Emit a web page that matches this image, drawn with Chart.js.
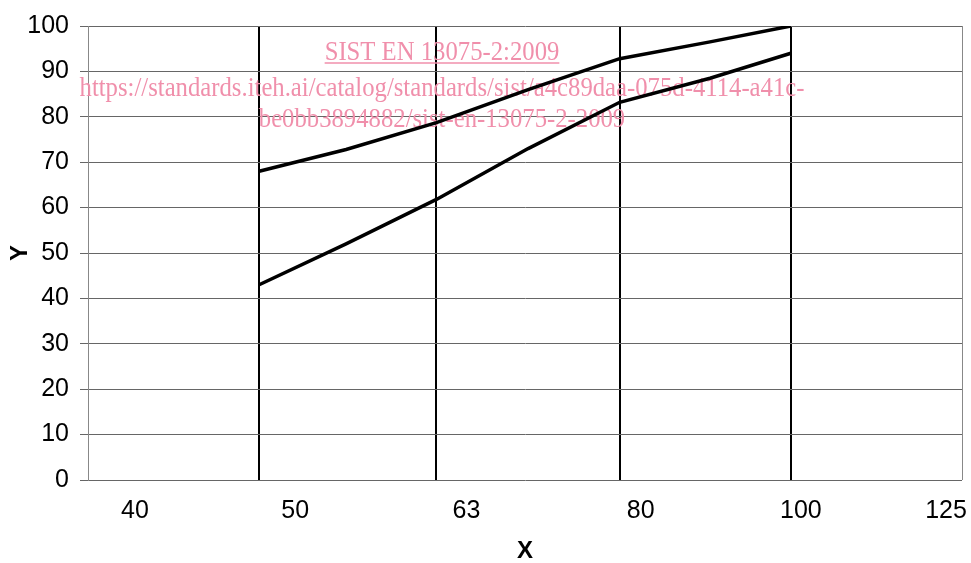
<!DOCTYPE html>
<html>
<head>
<meta charset="utf-8">
<script src="https://cdn.jsdelivr.net/npm/chart.js@4.4.1/dist/chart.umd.min.js"></script>
<style>
  body { margin: 0; background: #fff; }
  canvas { display: block; }
</style>
</head>
<body>
<canvas id="myChart" width="971" height="563"></canvas>
<script>
// data
const xValues = [50, 56, 63, 71, 80, 90, 100];
const upperCurve = [68, 72.8, 78.7, 86, 92.8, 96.5, 100];
const lowerCurve = [43, 52, 61.8, 73, 83.2, 88.5, 94];
const xTicks = [40, 50, 63, 80, 100, 125];
const yTicks = [0, 10, 20, 30, 40, 50, 60, 70, 80, 90, 100];

// labels in the picture sit a bit off their grid lines
const xLabelShift = [47, 36, 30, 21, 10, -16];

const watermark = [
  "SIST EN 13075-2:2009",
  "https://standards.iteh.ai/catalog/standards/sist/a4c89daa-075d-4114-a41c-",
  "be0bb3894882/sist-en-13075-2-2009",
];

function pairs(ys) {
  return xValues.map((x, i) => ({ x: x, y: ys[i] }));
}

const font = "'Liberation Sans', Arial, sans-serif";

// x tick labels, drawn at the scale position plus the shift
const xLabels = {
  id: "xLabels",
  afterDraw(chart) {
    const ctx = chart.ctx;
    const xs = chart.scales.x;
    ctx.save();
    ctx.font = "25px " + font;
    ctx.fillStyle = "#000";
    ctx.textAlign = "center";
    ctx.textBaseline = "middle";
    xTicks.forEach((v, i) => {
      ctx.fillText(String(v), xs.getPixelForValue(v) + xLabelShift[i], 511);
    });
    ctx.restore();
  },
};

// pink link text laid over the plot
const stamp = {
  id: "stamp",
  beforeDatasetsDraw(chart) {
    const ctx = chart.ctx;
    const cx = 442;
    const rows = [60, 96, 127];
    ctx.save();
    ctx.font = "27px 'Liberation Serif', 'Times New Roman', serif";
    ctx.fillStyle = "#f08fab";
    ctx.strokeStyle = "#f08fab";
    ctx.textAlign = "center";
    ctx.textBaseline = "alphabetic";
    watermark.forEach((t, i) => {
      ctx.save();
      ctx.translate(cx, rows[i]);
      ctx.scale(0.915, 1);
      ctx.fillText(t, 0, 0);
      if (i === 0) {
        const w = ctx.measureText(t).width;
        ctx.lineWidth = 1.5;
        ctx.beginPath();
        ctx.moveTo(-w / 2, 3);
        ctx.lineTo(w / 2, 3);
        ctx.stroke();
      }
      ctx.restore();
    });
    ctx.restore();
  },
};

const config = {
  type: "line",
  data: {
    datasets: [
      {
        label: "upper",
        data: pairs(upperCurve),
        borderColor: "#000",
        borderWidth: 3.5,
        pointRadius: 0,
        tension: 0,
      },
      {
        label: "lower",
        data: pairs(lowerCurve),
        borderColor: "#000",
        borderWidth: 3.5,
        pointRadius: 0,
        tension: 0,
      },
    ],
  },
  plugins: [xLabels, stamp],
  options: {
    responsive: false,
    animation: false,
    layout: { padding: { top: 26, right: 9, left: 0, bottom: 0 } },
    plugins: { legend: { display: false }, tooltip: { enabled: false } },
    scales: {
      x: {
        type: "logarithmic",
        min: 40,
        max: 125,
        afterBuildTicks: (s) => {
          s.ticks = xTicks.map((v) => ({ value: v }));
        },
        afterFit: (s) => {
          s.height = 83;
        },
        ticks: { display: false },
        border: { display: false },
        grid: {
          drawTicks: false,
          color: (c) => (c.tick && c.tick.value > 40 && c.tick.value < 125 ? "#000" : "#888"),
          lineWidth: (c) => (c.tick && c.tick.value > 40 && c.tick.value < 125 ? 2 : 1),
        },
        title: {
          display: true,
          text: "X",
          color: "#000",
          font: { family: font, size: 24, weight: "bold", lineHeight: 1 },
          padding: { top: 0, bottom: 0 },
        },
      },
      y: {
        min: 0,
        max: 100,
        afterBuildTicks: (s) => {
          s.ticks = yTicks.map((v) => ({ value: v }));
        },
        afterFit: (s) => {
          s.width = 88;
        },
        border: { color: "#888", width: 1 },
        grid: { color: "#666", lineWidth: 1, tickLength: 8 },
        ticks: {
          color: "#000",
          padding: 11,
          font: { family: font, size: 25 },
        },
        title: {
          display: true,
          text: "Y",
          color: "#000",
          font: { family: font, size: 24, weight: "bold" },
          padding: { top: 6, bottom: 0 },
        },
      },
    },
  },
};

const myChart = new Chart(document.getElementById("myChart"), config);
</script>
</body>
</html>
